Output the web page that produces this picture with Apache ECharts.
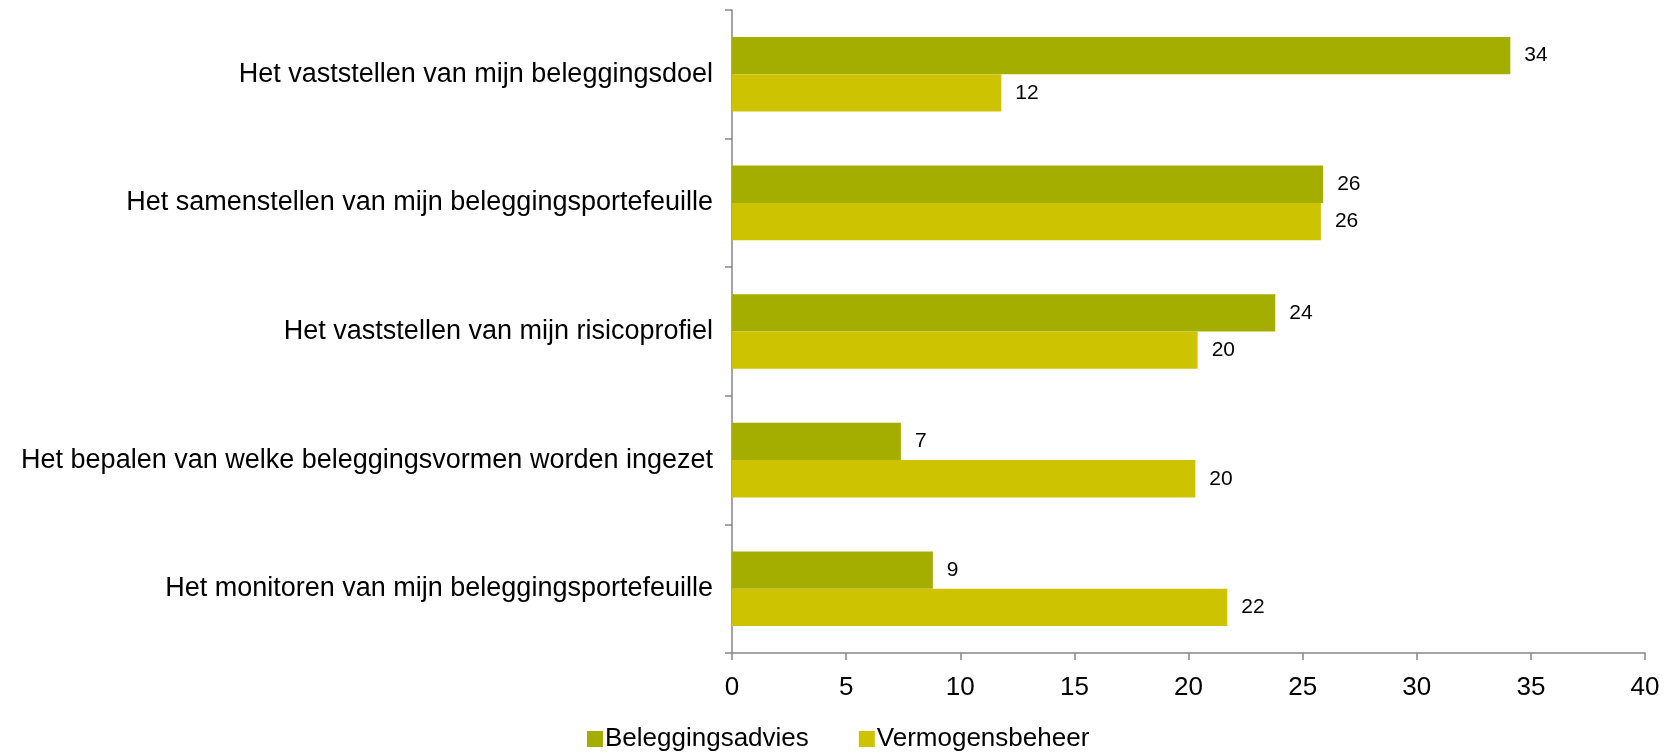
<!DOCTYPE html>
<html>
<head>
<meta charset="utf-8">
<script src="https://cdn.jsdelivr.net/npm/echarts@6/dist/echarts.min.js"></script>
<style>
    html, body { margin: 0; padding: 0; background: #fff; }
    #main { width: 1672px; height: 753px; }
</style>
</head>
<body>
<div id="main"></div>
<script>
// categorieën (van boven naar beneden)
var categories = [
    'Het vaststellen van mijn beleggingsdoel',
    'Het samenstellen van mijn beleggingsportefeuille',
    'Het vaststellen van mijn risicoprofiel',
    'Het bepalen van welke beleggingsvormen worden ingezet',
    'Het monitoren van mijn beleggingsportefeuille'
];
var seriesNames = ['Beleggingsadvies', 'Vermogensbeheer'];
var beleggingsadvies = [34.1, 25.9, 23.8, 7.4, 8.8];
var vermogensbeheer = [11.8, 25.8, 20.4, 20.3, 21.7];
var xTicks = [0, 5, 10, 15, 20, 25, 30, 35, 40];

var colors = ['#A3AE00', '#CEC300'];
var axisColor = '#868686';
var font = 'Liberation Sans, Arial, sans-serif';

function makeSeries(name, data, color) {
    return {
        name: name,
        type: 'bar',
        data: data,
        barGap: '0%',
        barCategoryGap: '42%',
        itemStyle: { color: color },
        label: {
            show: true,
            position: 'right',
            distance: 14,
            color: '#000',
            fontFamily: font,
            fontSize: 21,
            formatter: function (p) { return Math.round(p.value); }
        }
    };
}

var myChart = echarts.init(document.getElementById('main'));
var option = {
    animation: false,
    color: colors,
    grid: {
        left: 732,
        right: 27,
        top: 10,
        bottom: 100
    },
    legend: {
        data: seriesNames,
        top: 721,
        left: 582,
        itemWidth: 16,
        itemHeight: 16,
        itemGap: 50,
        icon: 'rect',
        textStyle: { fontFamily: font, fontSize: 26, color: '#000', padding: [0, 0, 0, -3] }
    },
    xAxis: {
        type: 'value',
        min: xTicks[0],
        max: xTicks[xTicks.length - 1],
        interval: 5,
        splitLine: { show: false },
        axisLine: { show: true, lineStyle: { color: axisColor, width: 1.5 } },
        axisTick: { show: true, length: 7, lineStyle: { color: axisColor, width: 1.5 } },
        axisLabel: { color: '#000', fontFamily: font, fontSize: 26, margin: 22 }
    },
    yAxis: {
        type: 'category',
        data: categories,
        inverse: true,
        axisLine: { show: true, lineStyle: { color: axisColor, width: 1.5 } },
        axisTick: { show: true, length: 7, lineStyle: { color: axisColor, width: 1.5 } },
        axisLabel: { color: '#000', fontFamily: font, fontSize: 27, margin: 19 }
    },
    series: [
        makeSeries(seriesNames[0], beleggingsadvies, colors[0]),
        makeSeries(seriesNames[1], vermogensbeheer, colors[1])
    ]
};
myChart.setOption(option);
</script>
</body>
</html>
